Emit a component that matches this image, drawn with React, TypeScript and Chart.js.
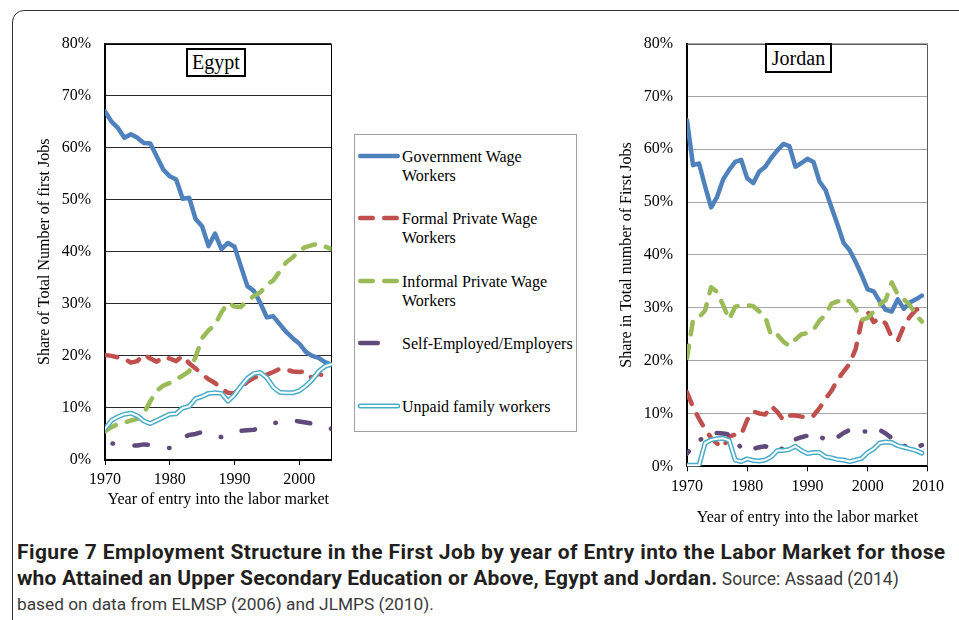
import React, { useEffect, useRef } from "react";
import { Chart, registerables } from "chart.js";

Chart.register(...registerables);

const SERIF = "'Liberation Serif', 'Times New Roman', serif";
const SANS = "Roboto, 'Open Sans', sans-serif";

// ---------- data ----------
const seriesNames = [
  "Government Wage Workers",
  "Formal Private Wage Workers",
  "Informal Private Wage Workers",
  "Self-Employed/Employers",
  "Unpaid family workers",
];
const legendLines = [
  ["Government Wage", "Workers"],
  ["Formal Private Wage", "Workers"],
  ["Informal Private Wage", "Workers"],
  ["Self-Employed/Employers"],
  ["Unpaid family workers"],
];

const yTickValues = [0, 10, 20, 30, 40, 50, 60, 70, 80];

const egyptYears = [
  1970, 1971, 1972, 1973, 1974, 1975, 1976, 1977, 1978, 1979,
  1980, 1981, 1982, 1983, 1984, 1985, 1986, 1987, 1988, 1989,
  1990, 1991, 1992, 1993, 1994, 1995, 1996, 1997, 1998, 1999,
  2000, 2001, 2002, 2003, 2004, 2005,
];
const egyptXTicks = [1970, 1980, 1990, 2000];
const egyptGov = [
  67.0, 65.0, 63.8, 61.9, 62.6, 61.9, 60.9, 60.8, 58.3, 55.8,
  54.5, 53.9, 50.2, 50.4, 46.3, 44.9, 41.1, 43.5, 40.5, 41.7,
  41.0, 37.2, 33.4, 32.5, 30.2, 27.4, 27.6, 26.1, 24.6, 23.4,
  22.4, 20.8, 20.0, 19.6, 18.8, 18.3,
];
const egyptFormal = [
  20.2, 20.0, 19.7, 19.5, 18.7, 19.0, 20.3, 19.5, 18.9, 19.8,
  19.5, 19.0, 20.0, 18.6, 17.6, 16.5, 15.5, 14.8, 13.7, 12.9,
  12.8, 14.0, 15.0, 15.8, 16.2, 16.4, 16.9, 17.5, 17.4, 17.0,
  16.9, 17.0, 15.7, 16.6, 16.0, 16.5,
];
const egyptInformal = [
  5.5, 6.3, 6.9, 7.2, 7.6, 7.9, 9.0, 11.3, 13.3, 14.3,
  14.8, 15.5, 16.2, 17.0, 19.8, 23.4, 24.9, 26.0, 28.4, 30.2,
  29.5, 29.4, 30.6, 31.5, 32.2, 33.7, 34.5, 36.2, 38.0, 38.9,
  40.3, 40.9, 41.3, 41.5, 41.0, 40.5,
];
const egyptSelf = [
  3.8, 3.2, 3.0, 2.9, 2.8, 2.8, 3.0, 2.9, 2.6, 2.4,
  2.3, 3.2, 4.3, 4.8, 5.0, 5.4, 5.0, 4.6, 4.4, 4.6,
  5.2, 5.6, 5.7, 5.8, 6.3, 6.6, 7.0, 7.4, 7.7, 7.6,
  7.4, 7.2, 7.0, 6.8, 6.4, 6.0,
];
const egyptUnpaid = [
  6.0, 7.6, 8.3, 8.8, 9.0, 8.5, 7.5, 7.0, 7.6, 8.2,
  8.8, 8.9, 10.0, 10.3, 11.8, 12.2, 12.8, 12.9, 12.8, 11.3,
  12.5, 14.2, 15.7, 16.6, 16.8, 15.8, 14.0, 13.0, 12.9, 12.9,
  13.3, 14.2, 15.4, 17.0, 18.0, 18.4,
];

const jordanYears = [
  1970, 1971, 1972, 1973, 1974, 1975, 1976, 1977, 1978, 1979,
  1980, 1981, 1982, 1983, 1984, 1985, 1986, 1987, 1988, 1989,
  1990, 1991, 1992, 1993, 1994, 1995, 1996, 1997, 1998, 1999,
  2000, 2001, 2002, 2003, 2004, 2005, 2006, 2007, 2008, 2009,
];
const jordanXTicks = [1970, 1980, 1990, 2000, 2010];
const jordanGov = [
  65.5, 57.0, 57.3, 53.0, 49.0, 51.0, 54.3, 56.1, 57.6, 58.0,
  54.5, 53.6, 55.8, 56.7, 58.4, 59.8, 61.0, 60.6, 56.7, 57.4,
  58.2, 57.6, 53.9, 52.3, 49.0, 45.7, 42.3, 40.9, 38.7, 36.2,
  33.5, 33.1, 31.2, 29.6, 29.3, 31.6, 29.8, 31.0, 31.6, 32.3,
];
const jordanFormal = [
  14.0, 11.2, 9.0, 7.0, 5.4, 4.3, 3.6, 5.6, 6.0, 6.0,
  8.8, 10.4, 10.0, 9.8, 11.4, 10.3, 8.7, 9.6, 9.6, 9.4,
  9.2, 9.6, 11.0, 12.8, 14.3, 16.4, 17.9, 19.4, 22.2, 27.5,
  29.2, 27.3, 28.0, 27.0, 24.4, 23.8, 26.5, 28.3, 29.6, 30.0,
];
const jordanInformal = [
  20.5, 27.7, 28.2, 29.5, 33.9, 33.0, 30.5, 27.8, 30.2, 30.5,
  30.5, 30.3, 29.3, 28.3, 24.6, 24.9, 23.6, 22.8, 24.0, 25.0,
  25.2, 25.8, 27.6, 28.6, 30.8, 31.2, 31.7, 31.2, 29.8, 27.7,
  28.1, 29.3, 30.6, 31.5, 34.8, 32.5, 31.6, 30.5, 28.7, 27.4,
];
const jordanSelf = [
  2.4, 3.8, 4.9, 5.5, 6.1, 6.3, 6.2, 6.0, 4.8, 3.5,
  3.0, 3.3, 3.6, 3.8, 3.3, 2.8, 3.5, 4.3, 5.1, 5.5,
  5.8, 6.1, 5.6, 5.1, 5.0, 5.5, 6.3, 6.9, 6.8, 6.6,
  6.6, 7.1, 6.9, 6.2, 5.3, 4.6, 4.0, 3.2, 3.6, 4.0,
];
const jordanUnpaid = [
  0.2, 0.2, 0.2, 4.4, 5.0, 5.2, 5.3, 4.9, 1.2, 0.9,
  1.4, 1.1, 1.0, 1.2, 1.8, 3.0, 3.0, 3.2, 3.8, 3.0,
  2.4, 2.6, 2.6, 1.8, 1.6, 1.3, 1.2, 0.9, 1.2, 1.5,
  2.6, 3.3, 4.4, 4.6, 4.5, 3.9, 3.6, 3.3, 3.0, 2.5,
];

// ---------- styles ----------
const seriesStyles = [
  { color: "#4F81BD", width: 4.5, dash: [] as number[], inner: null as string | null },
  { color: "#C0504D", width: 4.5, dash: [12.5, 11.5], inner: null },
  { color: "#9BBB59", width: 4.5, dash: [12.5, 11.5], inner: null },
  { color: "#604A7B", width: 4.5, dash: [13.5, 21.5, 0.5, 21.5], inner: null },
  { color: "#4BACC6", width: 5, dash: [], inner: "#ffffff" },
];

const framePlugin = {
  id: "frame",
  beforeDatasetsDraw(chart: any, _args: any, opts: any) {
    const { ctx, chartArea: a } = chart;
    ctx.save();
    ctx.strokeStyle = opts.color || "#000";
    ctx.lineWidth = opts.width || 1;
    ctx.beginPath();
    ctx.moveTo(a.left, Math.round(a.top) + 0.5);
    ctx.lineTo(Math.round(a.right) - 0.5, Math.round(a.top) + 0.5);
    ctx.lineTo(Math.round(a.right) - 0.5, a.bottom);
    ctx.stroke();
    ctx.restore();
  },
};

const doubleLinePlugin = {
  id: "doubleLine",
  afterDatasetDraw(chart: any, args: any) {
    const ds: any = chart.data.datasets[args.index];
    if (!ds.innerColor) return;
    const pts = args.meta.data;
    const ctx = chart.ctx;
    const a = chart.chartArea;
    ctx.save();
    ctx.beginPath();
    ctx.rect(a.left, a.top - 6, a.right - a.left + 6, a.bottom - a.top + 12);
    ctx.clip();
    ctx.beginPath();
    pts.forEach((p: any, i: number) => (i ? ctx.lineTo(p.x, p.y) : ctx.moveTo(p.x, p.y)));
    ctx.strokeStyle = ds.innerColor;
    ctx.lineWidth = ds.innerWidth;
    ctx.lineJoin = "round";
    ctx.lineCap = "round";
    ctx.stroke();
    ctx.restore();
  },
};

type Panel = {
  years: number[];
  series: number[][];
  xMax: number;
  xTicks: number[];
  yTitle: string;
  yAxisWidth: number;
  xAxisHeight: number;
  yTitlePad: number;
  xTitlePad: number;
  xTickPad: number;
  gridColor: string;
  frameColor: string;
  padding: { top: number; right: number; bottom: number; left: number };
  selfDash: number[];
  selfDashOffset: number;
};

const xTitleText = "Year of entry into the labor market";

function ChartPanel({ panel, left, top, width, height }: { panel: Panel; left: number; top: number; width: number; height: number }) {
  const ref = useRef<HTMLCanvasElement | null>(null);
  useEffect(() => {
    if (!ref.current) return;
    const font = { family: SERIF, size: 16 };
    const datasets = panel.series.map((vals, i) => {
      const st = seriesStyles[i];
      return {
        label: seriesNames[i],
        data: vals,
        borderColor: st.color,
        backgroundColor: st.color,
        borderWidth: st.width,
        borderDash: i === 3 ? panel.selfDash : st.dash,
        borderDashOffset: i === 3 ? panel.selfDashOffset : 0,
        borderCapStyle: "round",
        borderJoinStyle: "round",
        pointRadius: 0,
        pointHoverRadius: 0,
        tension: 0,
        fill: false,
        order: 5 - i,
        innerColor: st.inner,
        innerWidth: 2,
      } as any;
    });
    const chart = new Chart(ref.current, {
      type: "line",
      data: { labels: panel.years, datasets },
      options: {
        responsive: false,
        animation: false,
        events: [],
        layout: { padding: panel.padding },
        plugins: {
          legend: { display: false },
          tooltip: { enabled: false },
          frame: { color: panel.frameColor, width: 1 },
        } as any,
        scales: {
          x: {
            type: "linear",
            min: panel.years[0],
            max: panel.xMax,
            afterBuildTicks: (s: any) => {
              s.ticks = panel.xTicks.map((v) => ({ value: v }));
            },
            ticks: {
              font,
              color: "#000",
              padding: panel.xTickPad,
              maxRotation: 0,
              autoSkip: false,
              callback: (v: any) => String(v),
            },
            grid: { drawOnChartArea: false, drawTicks: true, tickLength: 5, color: "#000", lineWidth: 1 },
            border: { display: true, color: "#000", width: 2 },
            title: { display: true, text: xTitleText, font, color: "#000", padding: { top: 0, bottom: panel.xTitlePad } },
            afterFit: (s: any) => {
              s.height = panel.xAxisHeight;
            },
          } as any,
          y: {
            type: "linear",
            min: 0,
            max: 80,
            afterBuildTicks: (s: any) => {
              s.ticks = yTickValues.map((v) => ({ value: v }));
            },
            ticks: { font, color: "#000", padding: 14, callback: (v: any) => v + "%" },
            grid: { color: panel.gridColor, lineWidth: 1, drawTicks: false },
            border: { display: true, color: "#000", width: 2 },
            title: { display: true, text: panel.yTitle, font, color: "#000", padding: { top: panel.yTitlePad, bottom: 0 } },
            afterFit: (s: any) => {
              s.width = panel.yAxisWidth;
            },
          } as any,
        },
      },
      plugins: [framePlugin, doubleLinePlugin],
    });
    return () => chart.destroy();
  }, [panel]);
  return (
    <canvas
      ref={ref}
      width={width}
      height={height}
      style={{ position: "absolute", left, top, width, height }}
    />
  );
}

const egyptPanel: Panel = {
  years: egyptYears,
  series: [egyptGov, egyptFormal, egyptInformal, egyptSelf, egyptUnpaid],
  xMax: 2005,
  xTicks: egyptXTicks,
  yTitle: "Share of Total Number of first Jobs",
  yAxisWidth: 85,
  xAxisHeight: 60,
  yTitlePad: 15.4,
  xTitlePad: 10.4,
  xTickPad: 5.4,
  gridColor: "#2a2a2a",
  frameColor: "#000",
  padding: { top: 17, right: 18.5, bottom: 0, left: 0 },
  selfDash: [13.5, 21.5, 0.5, 21.5],
  selfDashOffset: 26.75,
};

const jordanPanel: Panel = {
  years: jordanYears,
  series: [jordanGov, jordanFormal, jordanInformal, jordanSelf, jordanUnpaid],
  xMax: 2010,
  xTicks: jordanXTicks,
  yTitle: "Share in Total number of First Jobs",
  yAxisWidth: 87,
  xAxisHeight: 73.7,
  yTitlePad: 17.4,
  xTitlePad: 12.4,
  xTickPad: 6.1,
  gridColor: "#a6a6a6",
  frameColor: "#595959",
  padding: { top: 13.3, right: 21, bottom: 0, left: 0 },
  selfDash: [11, 17, 0.5, 17],
  selfDashOffset: 8.25,
};

function LegendSample({ i }: { i: number }) {
  const st = seriesStyles[i];
  const x2 = i === 3 ? 23.8 : 43.75;
  return (
    <svg width={50} height={14} style={{ position: "absolute", left: 0, top: -7 }}>
      <line
        x1={6.25}
        y1={7}
        x2={x2}
        y2={7}
        stroke={st.color}
        strokeWidth={st.width}
        strokeLinecap="round"
        strokeDasharray={i === 1 || i === 2 ? "12.5 11.5" : undefined}
      />
      {st.inner ? (
        <line x1={6.25} y1={7} x2={x2} y2={7} stroke={st.inner} strokeWidth={2} strokeLinecap="round" />
      ) : null}
    </svg>
  );
}

const legendRowY = [156, 218, 281, 343, 406];

export default function App() {
  return (
    <div
      style={{
        position: "fixed",
        left: 0,
        top: 0,
        width: 959,
        height: 620,
        overflow: "hidden",
        background: "#fff",
      }}
    >
      <div
        style={{
          position: "absolute",
          left: 12,
          top: 10,
          width: 1000,
          height: 700,
          border: "1.5px solid #333",
          borderRadius: 12,
        }}
      />
      <ChartPanel panel={egyptPanel} left={20} top={20} width={330} height={500} />
      <ChartPanel panel={jordanPanel} left={600} top={20} width={350} height={520} />

      <div
        style={{
          position: "absolute",
          left: 186,
          top: 48,
          width: 60,
          height: 29,
          boxSizing: "border-box",
          border: "2px solid #000",
          background: "#fff",
          fontFamily: SERIF,
          fontSize: 20,
          display: "flex",
          alignItems: "center",
          justifyContent: "center",
        }}
      >
        Egypt
      </div>
      <div
        style={{
          position: "absolute",
          left: 765,
          top: 43,
          width: 67,
          height: 30,
          boxSizing: "border-box",
          border: "2px solid #000",
          background: "#fff",
          fontFamily: SERIF,
          fontSize: 20,
          display: "flex",
          alignItems: "center",
          justifyContent: "center",
        }}
      >
        Jordan
      </div>

      <div
        style={{
          position: "absolute",
          left: 354,
          top: 134,
          width: 223,
          height: 298,
          boxSizing: "border-box",
          border: "1.5px solid #a0a0a0",
        }}
      />
      {legendRowY.map((y, i) => (
        <div key={i} style={{ position: "absolute", left: 354, top: y }}>
          <LegendSample i={i} />
          <div
            style={{
              position: "absolute",
              left: 48,
              top: -9.5,
              fontFamily: SERIF,
              fontSize: 16,
              lineHeight: "19px",
              whiteSpace: "nowrap",
              color: "#000",
            }}
          >
            {legendLines[i].map((l, k) => (
              <div key={k}>{l}</div>
            ))}
          </div>
        </div>
      ))}

      <div
        style={{
          position: "absolute",
          left: 17,
          top: 540,
          fontFamily: SANS,
          lineHeight: "25.5px",
          whiteSpace: "nowrap",
          color: "#231f20",
        }}
      >
        <div style={{ fontWeight: 700, fontSize: 21, letterSpacing: "0.4px" }}>
          Figure 7 Employment Structure in the First Job by year of Entry into the Labor Market for those
        </div>
        <div>
          <span style={{ fontWeight: 700, fontSize: 21, letterSpacing: "0.17px" }}>
            who Attained an Upper Secondary Education or Above, Egypt and Jordan.
          </span>
          <span style={{ color: "#3a3a3a", fontSize: 17.5 }}> Source: Assaad (2014)</span>
        </div>
        <div style={{ color: "#3a3a3a", fontSize: 17.3 }}>based on data from ELMSP (2006) and JLMPS (2010).</div>
      </div>
    </div>
  );
}
